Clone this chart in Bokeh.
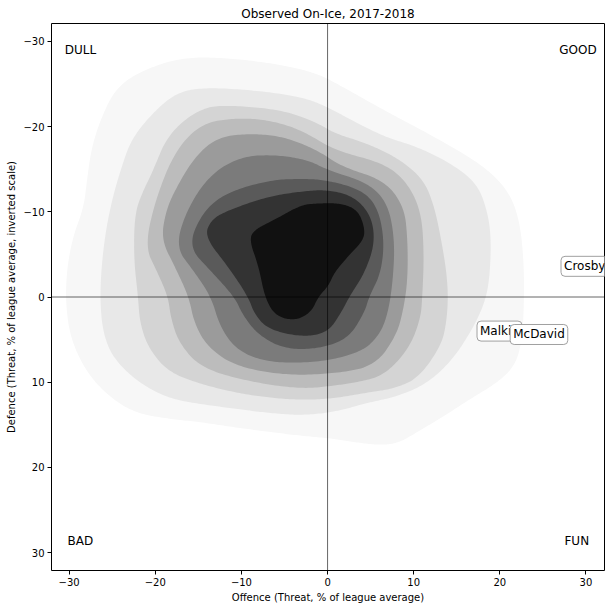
from bokeh.plotting import figure
from bokeh.models import Range1d, Span, Label, FixedTicker, CustomJSTickFormatter
from bokeh.embed import file_html
from bokeh.resources import INLINE

# ---- contour bands of the on-ice KDE (outermost/lightest first), data units ----
band_1 = [(-30.4, 1), (-30.3, -3), (-29.6, -7), (-28.3, -10.5), (-27.9, -14), (-27.4, -17.5),
          (-26.3, -21), (-24.6, -24.5), (-21.6, -26.6), (-16.6, -28.2), (-10.8, -28.0),
          (-5.0, -27.2), (-1.1, -26.2), (1.5, -24.8), (6.6, -21.9), (12.4, -18.8), (18.0, -15.5),
          (21.0, -12.5), (22.3, -9), (22.8, -4), (22.8, 1), (22.6, 5), (21.8, 8), (19.8, 10),
          (16.5, 12), (13.5, 14), (10.5, 15.8), (8.3, 17.1), (6.3, 17.4), (3.5, 17.1), (0.5, 16.6),
          (-3, 16.3), (-7, 15.8), (-10.8, 15.3), (-14.6, 14.7), (-18.5, 14.3), (-22.4, 13.6),
          (-25.5, 11.6), (-28.0, 8.8), (-29.8, 5)]
band_2 = [(-26.4, 1), (-26.3, -3), (-25.8, -7.5), (-25.0, -11.5), (-24.0, -15), (-22.8, -18.5),
          (-20.4, -21.5), (-17.7, -23.9), (-14.6, -24.6), (-8.8, -24.3), (-3.0, -23.5), (0.0, -22.3),
          (2.7, -20.8), (6.6, -18.8), (10.5, -17.6), (14.3, -15.7), (17.4, -13.3), (18.6, -9.9),
          (19.0, -6.7), (18.8, -2), (18.2, 0.8), (16.8, 3.8), (14.5, 7.4), (11.5, 10.2), (8, 11.7),
          (4.7, 12.4), (0.8, 13.5), (-3.0, 13.9), (-7, 13.6), (-10.8, 13.1), (-14.6, 12.6),
          (-18.5, 11.9), (-22.0, 10), (-24.8, 7.3), (-26.0, 4.5)]
band_3 = [(-22.0, 0), (-22.5, -4.5), (-22.4, -9.8), (-21.4, -12.5), (-20.4, -14.5), (-18.5, -19.2),
          (-14.6, -22.3), (-10.8, -22.5), (-5.0, -21.9), (-1.1, -20.4), (0.8, -19.2), (4.7, -18.0),
          (8.5, -16.1), (11.2, -13.7), (12.4, -10.6), (13.2, -6.7), (13.8, -3), (14.0, 0),
          (13.8, 3), (13.2, 5.7), (10.5, 9.6), (7.5, 10.8), (4.7, 11.2), (0.8, 11.9), (-3.0, 12.1),
          (-7, 11.8), (-10.8, 11.2), (-14.8, 10.2), (-18.5, 8.8), (-20.8, 6), (-21.8, 3)]
band_4 = [(-18.5, 0), (-19.8, -3), (-21.2, -5.9), (-20.0, -11.4), (-17.7, -17.2), (-14.6, -20.4),
          (-10.8, -21.0), (-6.9, -20.8), (-3.0, -19.6), (0.8, -17.2), (6.6, -15.7), (9.3, -13.4),
          (10.9, -9.9), (11.2, -5), (11.0, 0), (10.8, 2.5), (9.5, 6), (6.6, 9.2), (3.5, 10),
          (0.8, 10.4), (-3.0, 10.8), (-8.8, 10.0), (-14.6, 8.4), (-17.2, 5.5), (-18.2, 2.5)]
band_5 = [(-16.1, 0), (-17.7, -3.5), (-19.3, -6.7), (-18.8, -10), (-17.7, -12.6), (-15.4, -16.5),
          (-12.7, -18.8), (-8.8, -19.2), (-5.0, -18.8), (-1.1, -17.2), (1.6, -15.3), (6.6, -13.7),
          (8.9, -10.6), (9.3, -6.7), (9.3, -2), (8.8, 1.5), (8.0, 4.5), (5.5, 8.1), (0.8, 9.0),
          (-5.0, 9.2), (-10.8, 8.1), (-14.0, 5.8), (-15.5, 3)]
band_6 = [(-13.5, 0), (-15.5, -3), (-17.7, -5.9), (-16.2, -10.6), (-13.5, -14.5), (-10.0, -16.5),
          (-6.1, -16.7), (-2.3, -16.1), (0.0, -14.9), (4.7, -13.4), (7.0, -11.0), (7.8, -6.7),
          (7.6, -2), (7.0, 2), (6, 4.5), (3.9, 6.5), (-1.1, 7.7), (-6.9, 7.7), (-10.5, 6.3),
          (-12.5, 3.5)]
band_7 = [(-10.8, 0), (-13.5, -3), (-16.2, -5.9), (-14.6, -9.85), (-11.9, -12.2), (-6.9, -13.7),
          (-3.0, -13.9), (0.0, -13.7), (3.9, -12.6), (5.8, -10.6), (6.6, -6.7), (6.2, -2.8),
          (4.8, 0), (4.3, 1.8), (2.4, 4.9), (-1.1, 6.1), (-5.0, 6.1), (-8, 4.5), (-9.8, 2.2)]
band_8 = [(-9.2, 0), (-11.5, -3.5), (-14.3, -7.1), (-13.5, -9.1), (-11.5, -10.2), (-6.9, -11.8),
          (-3.0, -12.4), (0.0, -12.6), (3.1, -11.8), (5.1, -9.5), (5.5, -6.3), (4.3, -2.8),
          (2.5, 0), (1.6, 1.8), (0.0, 4.2), (-3.0, 4.7), (-6.9, 3.8), (-8.5, 2)]
band_9 = [(-7.3, 0), (-8.0, -3.6), (-9.1, -6.7), (-8.5, -7.9), (-6.1, -9.1), (-3.1, -10.8),
          (-1.1, -11), (1.6, -11), (3.5, -10.2), (4.3, -8.2), (4.2, -6.7), (2.4, -4.8),
          (0.8, -2.9), (0.1, -1.3), (-1.1, 0), (-1.9, 1.8), (-3.8, 2.8), (-6.1, 2.2)]
bands = [band_1, band_2, band_3, band_4, band_5, band_6, band_7, band_8, band_9]
band_colors = ["#f7f7f7", "#e8e8e8", "#d4d4d4", "#bcbcbc", "#9b9b9b",
               "#7b7b7b", "#5a5a5a", "#333333", "#111111"]

# ---- labelled players (left edge of each label box) ----
players = ["Crosby", "Malkin", "McDavid"]
player_x = [27.1, 17.35, 21.2]
player_y = [-3.6, 4.0, 4.4]

# ---- quadrant labels ----
corner_text = ["DULL", "GOOD", "BAD", "FUN"]
corner_x = [-30.5, 26.9, -30.2, 27.5]
corner_y = [-29.0, -29.0, 28.6, 28.6]

tick_values = [-30, -20, -10, 0, 10, 20, 30]
x_lim = (-32.05, 32.15)
y_lim = (32.1, -32.1)  # inverted

title_text = "Observed On-Ice, 2017-2018"
x_label = "Offence (Threat, % of league average)"
y_label = "Defence (Threat, % of league average, inverted scale)"

FONT = "DejaVu Sans"


def chaikin(points, iters=4):
    pts = list(points)
    for _ in range(iters):
        new = []
        n = len(pts)
        for i in range(n):
            x0, y0 = pts[i]
            x1, y1 = pts[(i + 1) % n]
            new.append((0.75 * x0 + 0.25 * x1, 0.75 * y0 + 0.25 * y1))
            new.append((0.25 * x0 + 0.75 * x1, 0.25 * y0 + 0.75 * y1))
        pts = new
    return [p[0] for p in pts], [p[1] for p in pts]


p = figure(width=606, height=605, output_backend="svg", toolbar_location=None,
           x_range=Range1d(*x_lim), y_range=Range1d(*y_lim),
           min_border_left=51, min_border_right=2, min_border_top=23, min_border_bottom=33)
p.background_fill_color = "white"
p.border_fill_color = "white"
p.outline_line_color = "black"
p.outline_line_width = 1
p.grid.visible = False

p.title.text = title_text
p.title.align = "center"
p.title.text_font = FONT
p.title.text_font_size = "12px"
p.title.text_font_style = "normal"
p.title.text_color = "black"
p.title.standoff = 5

for band, col in zip(bands, band_colors):
    xs, ys = chaikin(band)
    p.patch(xs, ys, fill_color=col, line_color=None)

p.add_layout(Span(location=0, dimension="height", line_color="black", line_alpha=0.6, line_width=1))
p.add_layout(Span(location=0, dimension="width", line_color="black", line_alpha=0.6, line_width=1))

fmt = CustomJSTickFormatter(code="return tick < 0 ? '\u2212' + Math.abs(tick) : String(tick);")
for ax in (p.xaxis[0], p.yaxis[0]):
    ax.ticker = FixedTicker(ticks=tick_values)
    ax.formatter = fmt
    ax.axis_line_color = None
    ax.major_tick_line_color = "black"
    ax.major_tick_out = 4
    ax.major_tick_in = 0
    ax.minor_tick_line_color = None
    ax.major_label_text_font = FONT
    ax.major_label_text_font_size = "10px"
    ax.major_label_text_color = "black"
    ax.major_label_standoff = 3
    ax.axis_label_text_font = FONT
    ax.axis_label_text_font_size = "10px"
    ax.axis_label_text_font_style = "normal"
    ax.axis_label_text_color = "black"
    ax.axis_label_standoff = 3
p.xaxis[0].axis_label = x_label
p.yaxis[0].axis_label = y_label

for t, x, y in zip(corner_text, corner_x, corner_y):
    p.add_layout(Label(x=x, y=y, text=t, text_font=FONT, text_font_size="12px",
                       text_baseline="middle", text_align="left", text_color="black"))

for t, x, y in zip(players, player_x, player_y):
    p.add_layout(Label(x=x, y=y, text=t, text_font=FONT, text_font_size="12px",
                       text_baseline="middle", text_align="left", text_color="black",
                       background_fill_color="white", border_line_color="#a0a0a0",
                       border_line_width=1, padding=3, border_radius=4))

open("out.html", "w").write(file_html(p, INLINE))
